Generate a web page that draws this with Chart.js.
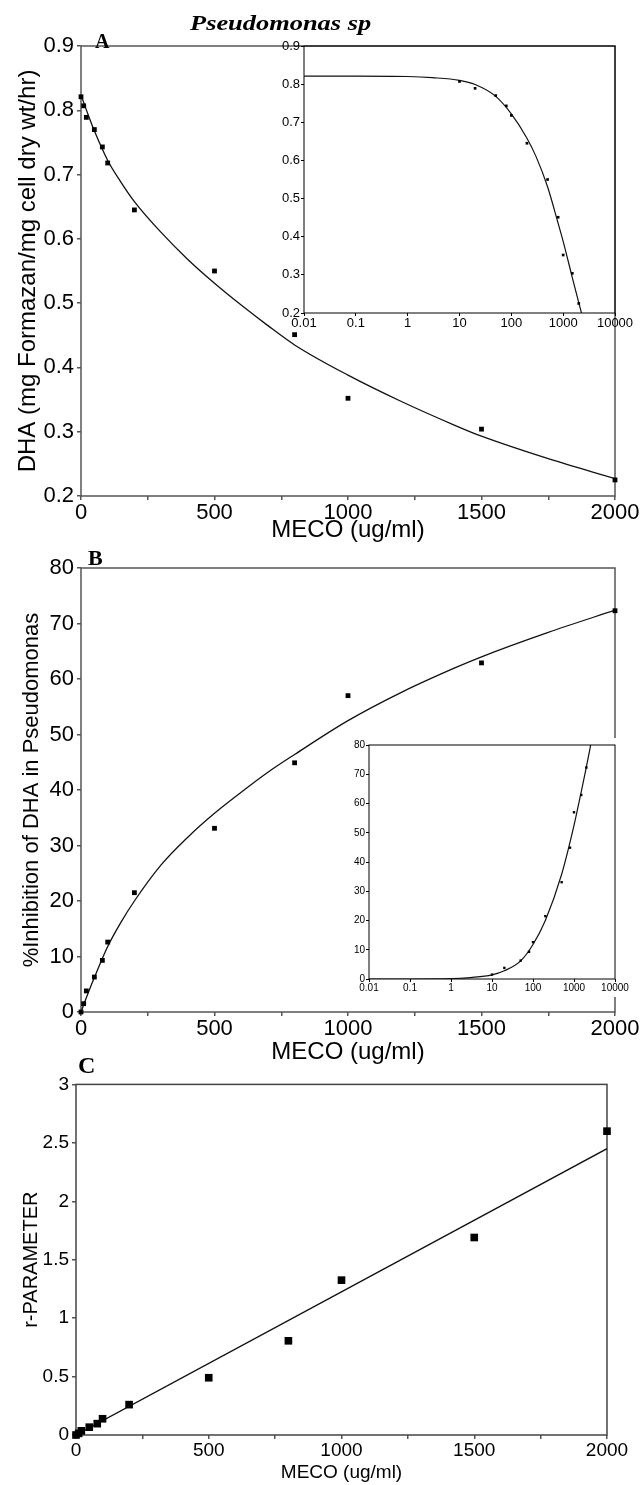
<!DOCTYPE html>
<html><head><meta charset="utf-8">
<script src="https://cdn.jsdelivr.net/npm/chart.js@4.4.1/dist/chart.umd.min.js"></script>
<style>
html,body{margin:0;padding:0;background:#fff;}
#page{position:relative;width:640px;height:1485px;overflow:hidden;background:#fff;}
canvas{position:absolute;display:block;}
.lbl{position:absolute;font-family:"Liberation Serif","Times New Roman",serif;font-weight:bold;line-height:1;white-space:nowrap;color:#000;}
</style></head><body>
<div id="page">
  <canvas id="cA" style="left:0;top:0;width:640px;height:548px" width="640" height="548"></canvas>
  <canvas id="cAi" style="left:270px;top:30px;width:370px;height:306px" width="370" height="306"></canvas>
  <canvas id="cB" style="left:0;top:548px;width:640px;height:522px" width="640" height="522"></canvas>
  <canvas id="cBi" style="left:330px;top:730px;width:310px;height:270px" width="310" height="270"></canvas>
  <canvas id="cC" style="left:0;top:1070px;width:640px;height:415px" width="640" height="415"></canvas>
  <div class="lbl" style="left:190px;top:12px;font-size:22px;font-style:italic;transform:scaleX(1.2);transform-origin:left top;">Pseudomonas sp</div>
  <div class="lbl" style="left:95px;top:31px;font-size:20px;">A</div>
  <div class="lbl" style="left:88px;top:547px;font-size:22px;">B</div>
  <div class="lbl" style="left:78px;top:1053px;font-size:24px;">C</div>
</div>
<script>
// ---------- data ----------
const mecoX = [0, 10, 20, 50, 80, 100, 200, 500, 800, 1000, 1500, 2000];
const dhaValues = [0.821, 0.807, 0.789, 0.770, 0.743, 0.718, 0.645, 0.550, 0.451, 0.352, 0.304, 0.225];
const inhibitionValues = [0, 1.5, 3.8, 6.3, 9.3, 12.6, 21.5, 33.1, 44.9, 57.0, 62.9, 72.3];
const rParamValues = [0, 0.014, 0.036, 0.067, 0.097, 0.139, 0.26, 0.49, 0.806, 1.325, 1.69, 2.60];

const dhaCurveX = [0, 25, 50, 100, 150, 200, 300, 400, 500, 600, 700, 800, 1000, 1200, 1400, 1500, 1750, 2000];
const dhaCurveY = [0.824, 0.795, 0.768, 0.722, 0.688, 0.658, 0.610, 0.568, 0.531, 0.497, 0.465, 0.435, 0.388, 0.347, 0.310, 0.293, 0.258, 0.227];
const dhaInsetCurveX = [0.01, 0.1, 1, 3, 10, 20, 50, 100, 200, 300, 500, 800, 1000, 1500, 2000, 2300];
const dhaInsetCurveY = [0.821, 0.821, 0.820, 0.817, 0.810, 0.799, 0.768, 0.722, 0.658, 0.610, 0.531, 0.435, 0.388, 0.293, 0.227, 0.196];

const inhibCurveX = [0, 25, 50, 100, 150, 200, 300, 400, 500, 600, 700, 800, 1000, 1200, 1400, 1500, 1750, 2000];
const inhibCurveY = [0, 3.2, 6.2, 11.8, 16.2, 20.0, 26.5, 31.5, 35.8, 39.6, 43.2, 46.4, 52.5, 57.6, 62.0, 64.0, 68.4, 72.4];
const inhibInsetCurveX = [0.01, 0.1, 1, 3, 10, 20, 50, 100, 200, 500, 1000, 1500, 2000, 2600];
const inhibInsetCurveY = [0, 0, 0.1, 0.5, 1.4, 2.8, 6.2, 11.8, 20.0, 35.8, 52.5, 64.0, 72.4, 80.6];

const rLineX = [0, 2000];
const rLineY = [0, 2.45];

// tick values and labels
const mecoTicks = [0, 250, 500, 750, 1000, 1250, 1500, 1750, 2000];
const mecoTickLabels = ['0', '', '500', '', '1000', '', '1500', '', '2000'];
const logTicks = [0.01, 0.1, 1, 10, 100, 1000, 10000];
const logTickLabels = ['0.01', '0.1', '1', '10', '100', '1000', '10000'];
const dhaTicks = [0.2, 0.3, 0.4, 0.5, 0.6, 0.7, 0.8, 0.9];
const dhaTickLabels = ['0.2', '0.3', '0.4', '0.5', '0.6', '0.7', '0.8', '0.9'];
const inhibTicks = [0, 10, 20, 30, 40, 50, 60, 70, 80];
const inhibTickLabels = ['0', '10', '20', '30', '40', '50', '60', '70', '80'];
const rTicks = [0, 0.5, 1, 1.5, 2, 2.5, 3];
const rTickLabels = ['0', '0.5', '1', '1.5', '2', '2.5', '3'];

// ---------- helpers ----------
Chart.defaults.font.family = '"Liberation Sans", Arial, sans-serif';
Chart.defaults.color = '#000';

function pts(xs, ys) {
  const out = [];
  for (let i = 0; i < xs.length; i++) out.push({x: xs[i], y: ys[i]});
  return out;
}
function posPts(xs, ys) { return pts(xs, ys).filter(p => p.x > 0); }

const framePlugin = {
  id: 'frame',
  beforeDraw(chart, args, opts) {
    if (opts.fill) {
      const a = chart.chartArea, f = opts.fill, ctx = chart.ctx;
      ctx.save();
      ctx.fillStyle = '#fff';
      ctx.fillRect(a.left - f.l, a.top - f.t, a.right - a.left + f.l + f.r, a.bottom - a.top + f.t + f.b);
      ctx.restore();
    }
  },
  beforeDatasetsDraw(chart, args, opts) {
    const a = chart.chartArea, ctx = chart.ctx;
    ctx.save();
    ctx.strokeStyle = opts.color || '#000';
    ctx.lineWidth = opts.width || 1;
    ctx.strokeRect(a.left, a.top, a.right - a.left, a.bottom - a.top);
    ctx.restore();
  }
};

function axis(o) {
  const cfg = {
    type: o.type || 'linear',
    min: o.min, max: o.max,
    afterFit(s) { if (o.width !== undefined) s.width = o.width; if (o.height !== undefined) s.height = o.height; },
    afterBuildTicks(s) { s.ticks = o.ticks.map(v => ({value: v})); },
    ticks: {
      callback: (v, i) => o.labels[i],
      autoSkip: false, maxRotation: 0, minRotation: 0,
      padding: o.tpad, font: {size: o.fs}, color: '#000'
    },
    grid: {drawOnChartArea: false, drawTicks: true, tickLength: o.tl, color: o.col, tickColor: o.col, tickWidth: o.lw, lineWidth: o.lw},
    border: {display: false}
  };
  if (o.title) {
    cfg.title = {display: true, text: o.title, color: '#000', font: {size: o.titleSize}, padding: o.titlePad};
  }
  return cfg;
}

function curveDs(data, w) {
  return {type: 'line', data: data, borderColor: '#111', borderWidth: w, pointRadius: 0,
          cubicInterpolationMode: 'monotone', fill: false, clip: 0, order: 2};
}
function pointDs(data, r) {
  return {type: 'scatter', data: data, pointStyle: 'rect', pointRadius: r, backgroundColor: '#000',
          borderColor: '#000', borderWidth: 0, clip: false, order: 1};
}

function baseOptions(padding, frame, scales) {
  return {
    responsive: false, animation: false, events: [],
    layout: {padding: padding},
    plugins: {legend: {display: false}, tooltip: {enabled: false}, title: {display: false}, frame: frame},
    scales: scales
  };
}

// ---------- Panel A ----------
new Chart(document.getElementById('cA'), {
  type: 'scatter',
  data: {datasets: [curveDs(pts(dhaCurveX, dhaCurveY), 1.3), pointDs(pts(mecoX, dhaValues), 3.4)]},
  options: baseOptions({top: 46, right: 25, left: 0, bottom: 0}, {color: '#555', width: 1.5}, {
    x: axis({min: 0, max: 2000, ticks: mecoTicks, labels: mecoTickLabels, height: 52, tpad: 0, fs: 22, tl: 4, col: '#555', lw: 1.5,
             title: 'MECO (ug/ml)', titleSize: 24, titlePad: {top: 0, bottom: 3}}),
    y: axis({min: 0.2, max: 0.9, ticks: dhaTicks, labels: dhaTickLabels, width: 81, tpad: 3, fs: 22, tl: 4, col: '#555', lw: 1.5,
             title: 'DHA (mg Formazan/mg cell dry wt/hr)', titleSize: 24, titlePad: {top: 14, bottom: 0}})
  }),
  plugins: [framePlugin]
});

// ---------- Panel A inset (log) ----------
new Chart(document.getElementById('cAi'), {
  type: 'scatter',
  data: {datasets: [curveDs(pts(dhaInsetCurveX, dhaInsetCurveY), 1.2), pointDs(posPts(mecoX, dhaValues), 1.9)]},
  options: baseOptions({top: 16, right: 25, left: 0, bottom: 0}, {color: '#000', width: 1}, {
    x: axis({type: 'logarithmic', min: 0.01, max: 10000, ticks: logTicks, labels: logTickLabels, height: 23, tpad: 0, fs: 13, tl: 3, col: '#000', lw: 1}),
    y: axis({min: 0.2, max: 0.9, ticks: dhaTicks, labels: dhaTickLabels, width: 34, tpad: 1, fs: 13, tl: 3, col: '#000', lw: 1})
  }),
  plugins: [framePlugin]
});

// ---------- Panel B ----------
new Chart(document.getElementById('cB'), {
  type: 'scatter',
  data: {datasets: [curveDs(pts(inhibCurveX, inhibCurveY), 1.3), pointDs(pts(mecoX, inhibitionValues), 3.4)]},
  options: baseOptions({top: 20, right: 25, left: 0, bottom: 0}, {color: '#555', width: 1.5}, {
    x: axis({min: 0, max: 2000, ticks: mecoTicks, labels: mecoTickLabels, height: 58, tpad: 0, fs: 22, tl: 4, col: '#555', lw: 1.5,
             title: 'MECO (ug/ml)', titleSize: 24, titlePad: {top: 0, bottom: 3}}),
    y: axis({min: 0, max: 80, ticks: inhibTicks, labels: inhibTickLabels, width: 81, tpad: 3, fs: 22, tl: 4, col: '#555', lw: 1.5,
             title: '%Inhibition of DHA in Pseudomonas', titleSize: 22, titlePad: {top: 19, bottom: 0}})
  }),
  plugins: [framePlugin]
});

// ---------- Panel B inset (log) ----------
new Chart(document.getElementById('cBi'), {
  type: 'scatter',
  data: {datasets: [curveDs(pts(inhibInsetCurveX, inhibInsetCurveY), 1.2), pointDs(posPts(mecoX, inhibitionValues), 1.7)]},
  options: baseOptions({top: 15, right: 25, left: 0, bottom: 0}, {color: '#000', width: 1, fill: {l: 16, t: 7, r: 3, b: 18}}, {
    x: axis({type: 'logarithmic', min: 0.01, max: 10000, ticks: logTicks, labels: logTickLabels, height: 21, tpad: 0, fs: 10, tl: 3, col: '#000', lw: 1}),
    y: axis({min: 0, max: 80, ticks: inhibTicks, labels: inhibTickLabels, width: 39, tpad: 1, fs: 10, tl: 3, col: '#000', lw: 1})
  }),
  plugins: [framePlugin]
});

// ---------- Panel C ----------
new Chart(document.getElementById('cC'), {
  type: 'scatter',
  data: {datasets: [curveDs(pts(rLineX, rLineY), 1.3), pointDs(pts(mecoX, rParamValues), 5.4)]},
  options: baseOptions({top: 4, right: 33, left: 0, bottom: 0}, {color: '#444', width: 1.5}, {
    x: axis({min: 0, max: 2000, ticks: mecoTicks, labels: mecoTickLabels, height: 50, tpad: 0, fs: 19, tl: 4, col: '#555', lw: 1.5,
             title: 'MECO (ug/ml)', titleSize: 19, titlePad: {top: 0, bottom: 1}}),
    y: axis({min: 0, max: 3, ticks: rTicks, labels: rTickLabels, width: 76, tpad: 3, fs: 19, tl: 4, col: '#555', lw: 1.5,
             title: 'r-PARAMETER', titleSize: 20, titlePad: {top: 19, bottom: 0}})
  }),
  plugins: [framePlugin]
});
</script>
</body></html>
